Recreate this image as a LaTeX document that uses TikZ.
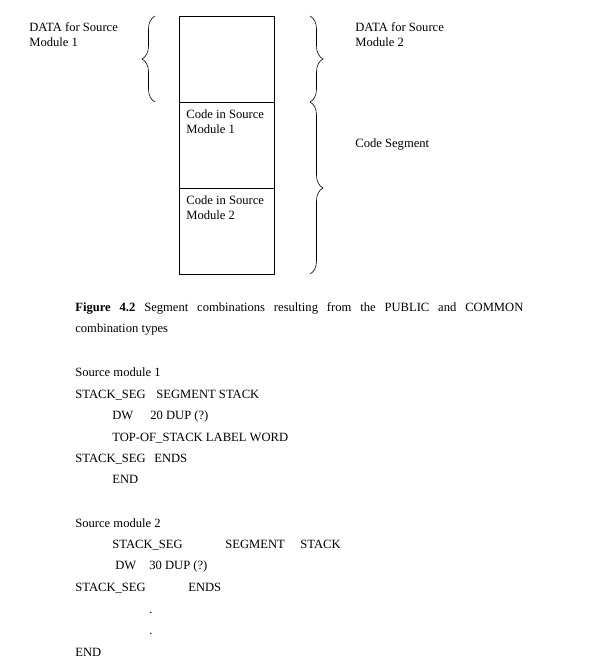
\documentclass[tikz,border=0pt]{standalone}
\usepackage{fontspec}
\setmainfont{Liberation Serif}
\usetikzlibrary{positioning,decorations.pathreplacing}
\begin{document}
\begin{tikzpicture}[x=1pt, y=-1pt, line width=0.7pt,
  seg/.style={draw, minimum width=95pt, minimum height=86pt, inner sep=0pt, outer sep=0pt},
  txt/.style={font=\fontsize{12.6}{15}\selectfont, inner sep=0pt, anchor=base west, align=left},
  brc/.style={decorate, decoration={brace, amplitude=13pt}, line width=0.6pt}]
\useasboundingbox (0,0) rectangle (592,669);
\node[seg] (data) at (226.5,59) {};
\node[seg, below=0pt of data] (code1) {};
\node[seg, below=0pt of code1] (code2) {};
\node[txt] (code1txt) at ([xshift=7pt, yshift=-31pt]code1.north west) {Code in Source\\Module 1};
\node[txt] (code2txt) at ([xshift=7pt, yshift=-31pt]code2.north west) {Code in Source\\Module 2};
\draw[brc] ([xshift=-24pt]data.south west) -- ([xshift=-24pt]data.north west);
\draw[brc] ([xshift=36pt]data.north east) -- ([xshift=36pt]data.south east);
\draw[brc] ([xshift=36pt]code1.north east) -- ([xshift=36pt]code2.south east);
\node[txt] (data1lbl) at (29,47) {DATA for Source\\Module 1};
\node[txt] (data2lbl) at (355,47) {DATA for Source\\Module 2};
\node[txt] (codelbl) at (355,147) {Code Segment};
\node[txt, font=\fontsize{12.6}{21}\selectfont, text width=448pt, align=justify] (caption) at (75,311)
  {\hyphenpenalty=10000 \textbf{Figure 4.2} Segment combinations resulting from the PUBLIC and COMMON combination types\par};
\node[txt] (src1) at (75,376) {Source module 1};
\node[txt] (seg1) at (75,398) {STACK\_SEG};
\node[txt] (seg1b) at (156,398) {SEGMENT STACK};
\node[txt] (dw1) at (112,419) {DW};
\node[txt] (dup1) at (150,419) {20 DUP (?)};
\node[txt] (top1) at (112,441) {TOP-OF\_STACK LABEL WORD};
\node[txt] (ends1) at (75,462) {STACK\_SEG};
\node[txt] (ends1b) at (154,462) {ENDS};
\node[txt] (end1) at (112,483) {END};
\node[txt] (src2) at (75,527) {Source module 2};
\node[txt] (seg2) at (112,548) {STACK\_SEG};
\node[txt] (seg2b) at (225,548) {SEGMENT};
\node[txt] (seg2c) at (300,548) {STACK};
\node[txt] (dw2) at (115,569) {DW};
\node[txt] (dup2) at (149,569) {30 DUP (?)};
\node[txt] (ends2) at (75,591) {STACK\_SEG};
\node[txt] (ends2b) at (188,591) {ENDS};
\node[txt] (dot1) at (149,613) {.};
\node[txt] (dot2) at (149,634) {.};
\node[txt] (end2) at (75,656) {END};
\end{tikzpicture}
\end{document}
